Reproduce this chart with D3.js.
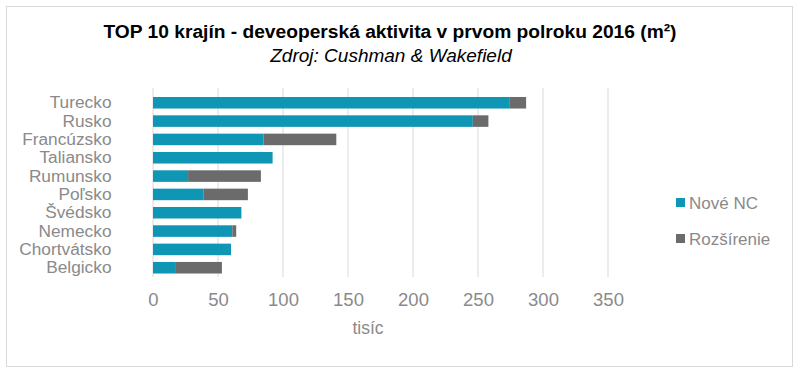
<!DOCTYPE html>
<html>
<head>
<meta charset="utf-8">
<script src="https://cdn.jsdelivr.net/npm/d3@7"></script>
<style>
  body { margin: 0; background: #fff; }
  text { font-family: "Liberation Sans", Arial, sans-serif; }
</style>
</head>
<body>
<script>
// data (tis. m2)
var countries = ["Turecko", "Rusko", "Francúzsko", "Taliansko", "Rumunsko", "Poľsko", "Švédsko", "Nemecko", "Chortvátsko", "Belgicko"];
var noveNC = [274, 246, 85, 92, 27, 39, 68, 61, 60, 17];
var rozsirenie = [13, 12, 56, 0, 56, 34, 0, 3, 0, 36];
var xTicks = [0, 50, 100, 150, 200, 250, 300, 350];
var seriesNames = ["Nové NC", "Rozšírenie"];
var colors = ["#0e96b4", "#6b6b6b"];

var w = 800, h = 374;
var margin = {top: 92, left: 153};
var plotW = 455, plotH = 185;
var textGray = "#8a8a8a";

var svg = d3.select("body").append("svg").attr("width", w).attr("height", h);

// outer frame
svg.append("rect")
  .attr("x", 6.5).attr("y", 6.5)
  .attr("width", 786).attr("height", 360)
  .attr("fill", "none").attr("stroke", "#d9d9d9");

svg.append("text")
  .attr("x", 390).attr("y", 38)
  .attr("text-anchor", "middle")
  .style("font-size", "19.2px").style("font-weight", "bold").attr("fill", "#000")
  .text("TOP 10 krajín - deveoperská aktivita v prvom polroku 2016 (m²)");

svg.append("text")
  .attr("x", 391).attr("y", 61.5)
  .attr("text-anchor", "middle")
  .style("font-size", "19px").style("font-style", "italic").attr("fill", "#000")
  .text("Zdroj: Cushman & Wakefield");

var g = svg.append("g").attr("transform", "translate(" + margin.left + "," + margin.top + ")");

var x = d3.scaleLinear().domain([0, 350]).range([0, plotW]);
var y = d3.scaleBand().domain(countries).range([1.6, 184.9]).paddingInner(0.37).paddingOuter(0.185);

// gridlines
g.selectAll(".grid")
  .data(xTicks)
  .enter().append("line")
  .attr("x1", function(d){return x(d);}).attr("x2", function(d){return x(d);})
  .attr("y1", -4).attr("y2", plotH)
  .attr("stroke", "#d9d9d9").attr("stroke-width", 1);

var rows = countries.map(function(c, i){ return {name: c, a: noveNC[i], b: rozsirenie[i]}; });

g.selectAll(".barA")
  .data(rows)
  .enter().append("rect")
  .attr("x", x(0))
  .attr("y", function(d){return y(d.name);})
  .attr("height", y.bandwidth())
  .attr("width", function(d){return x(d.a) - x(0);})
  .attr("fill", colors[0]);

g.selectAll(".barB")
  .data(rows)
  .enter().append("rect")
  .attr("x", function(d){return x(d.a);})
  .attr("y", function(d){return y(d.name);})
  .attr("height", y.bandwidth())
  .attr("width", function(d){return x(d.a + d.b) - x(d.a);})
  .attr("fill", colors[1]);

// category axis
var yAxis = g.append("g").call(d3.axisLeft(y).tickSize(0).tickPadding(41.5));
yAxis.select(".domain").remove();
yAxis.selectAll("text")
  .style("font-size", "17.3px").attr("fill", textGray)
  .style("font-family", "'Liberation Sans', Arial, sans-serif");

// value axis
var xAxis = g.append("g")
  .attr("transform", "translate(0," + plotH + ")")
  .call(d3.axisBottom(x).tickValues(xTicks).tickSize(0).tickPadding(16));
xAxis.select(".domain").remove();
xAxis.selectAll("text")
  .style("font-size", "18.5px").attr("fill", textGray)
  .style("font-family", "'Liberation Sans', Arial, sans-serif");

svg.append("text")
  .attr("x", 368).attr("y", 334)
  .attr("text-anchor", "middle")
  .style("font-size", "17.5px").attr("fill", textGray)
  .text("tisíc");

// legend
var leg = svg.selectAll(".leg")
  .data(seriesNames)
  .enter().append("g")
  .attr("transform", function(d, i){ return "translate(676," + (202.5 + i * 36) + ")"; });
leg.append("rect")
  .attr("x", 0).attr("y", -4.5).attr("width", 9).attr("height", 9)
  .attr("fill", function(d, i){return colors[i];});
leg.append("text")
  .attr("x", 13).attr("y", 6)
  .style("font-size", "17px").attr("fill", textGray)
  .text(function(d){return d;});
</script>
</body>
</html>
